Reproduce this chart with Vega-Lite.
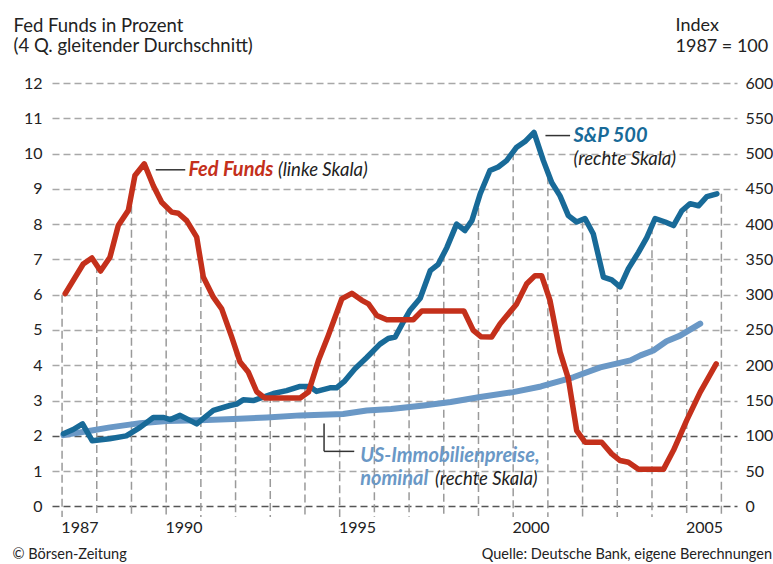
{
  "$schema": "https://vega.github.io/schema/vega-lite/v6.json",
  "width": 685,
  "height": 434,
  "autosize": {"type": "none"},
  "padding": {"left": 52, "top": 83, "right": 36, "bottom": 47},
  "background": "white",
  "config": {"font": "Lato", "view": {"stroke": null}},
  "title": {"text": "Quelle: Deutsche Bank, eigene Berechnungen", "orient": "bottom", "anchor": "end", "frame": "group", "fontSize": 14.5, "fontWeight": "normal", "color": "#222", "dx": 35, "offset": -13},
  "datasets": {
    "series": [
      {"series": "Fed Funds", "t": 1987.09, "v": 6.03},
      {"series": "Fed Funds", "t": 1987.61, "v": 6.87},
      {"series": "Fed Funds", "t": 1987.86, "v": 7.04},
      {"series": "Fed Funds", "t": 1988.11, "v": 6.67},
      {"series": "Fed Funds", "t": 1988.38, "v": 7.06},
      {"series": "Fed Funds", "t": 1988.62, "v": 7.96},
      {"series": "Fed Funds", "t": 1988.91, "v": 8.39},
      {"series": "Fed Funds", "t": 1989.10, "v": 9.38},
      {"series": "Fed Funds", "t": 1989.37, "v": 9.71},
      {"series": "Fed Funds", "t": 1989.63, "v": 9.09},
      {"series": "Fed Funds", "t": 1989.87, "v": 8.62},
      {"series": "Fed Funds", "t": 1990.16, "v": 8.34},
      {"series": "Fed Funds", "t": 1990.35, "v": 8.31},
      {"series": "Fed Funds", "t": 1990.59, "v": 8.10},
      {"series": "Fed Funds", "t": 1990.88, "v": 7.63},
      {"series": "Fed Funds", "t": 1991.07, "v": 6.50},
      {"series": "Fed Funds", "t": 1991.36, "v": 5.93},
      {"series": "Fed Funds", "t": 1991.60, "v": 5.60},
      {"series": "Fed Funds", "t": 1991.89, "v": 4.80},
      {"series": "Fed Funds", "t": 1992.13, "v": 4.09},
      {"series": "Fed Funds", "t": 1992.37, "v": 3.80},
      {"series": "Fed Funds", "t": 1992.61, "v": 3.25},
      {"series": "Fed Funds", "t": 1992.85, "v": 3.07},
      {"series": "Fed Funds", "t": 1993.86, "v": 3.07},
      {"series": "Fed Funds", "t": 1994.10, "v": 3.24},
      {"series": "Fed Funds", "t": 1994.39, "v": 4.14},
      {"series": "Fed Funds", "t": 1994.67, "v": 4.84},
      {"series": "Fed Funds", "t": 1995.06, "v": 5.88},
      {"series": "Fed Funds", "t": 1995.35, "v": 6.04},
      {"series": "Fed Funds", "t": 1995.64, "v": 5.84},
      {"series": "Fed Funds", "t": 1995.83, "v": 5.74},
      {"series": "Fed Funds", "t": 1996.07, "v": 5.41},
      {"series": "Fed Funds", "t": 1996.36, "v": 5.29},
      {"series": "Fed Funds", "t": 1997.12, "v": 5.29},
      {"series": "Fed Funds", "t": 1997.37, "v": 5.54},
      {"series": "Fed Funds", "t": 1998.58, "v": 5.54},
      {"series": "Fed Funds", "t": 1998.85, "v": 4.99},
      {"series": "Fed Funds", "t": 1999.07, "v": 4.81},
      {"series": "Fed Funds", "t": 1999.38, "v": 4.80},
      {"series": "Fed Funds", "t": 1999.62, "v": 5.17},
      {"series": "Fed Funds", "t": 2000.10, "v": 5.74},
      {"series": "Fed Funds", "t": 2000.39, "v": 6.31},
      {"series": "Fed Funds", "t": 2000.63, "v": 6.54},
      {"series": "Fed Funds", "t": 2000.82, "v": 6.54},
      {"series": "Fed Funds", "t": 2001.06, "v": 5.84},
      {"series": "Fed Funds", "t": 2001.35, "v": 4.38},
      {"series": "Fed Funds", "t": 2001.59, "v": 3.62},
      {"series": "Fed Funds", "t": 2001.83, "v": 2.15},
      {"series": "Fed Funds", "t": 2002.07, "v": 1.82},
      {"series": "Fed Funds", "t": 2002.55, "v": 1.82},
      {"series": "Fed Funds", "t": 2002.84, "v": 1.49},
      {"series": "Fed Funds", "t": 2003.08, "v": 1.30},
      {"series": "Fed Funds", "t": 2003.32, "v": 1.25},
      {"series": "Fed Funds", "t": 2003.61, "v": 1.05},
      {"series": "Fed Funds", "t": 2004.33, "v": 1.05},
      {"series": "Fed Funds", "t": 2004.62, "v": 1.59},
      {"series": "Fed Funds", "t": 2005.00, "v": 2.44},
      {"series": "Fed Funds", "t": 2005.39, "v": 3.24},
      {"series": "Fed Funds", "t": 2005.85, "v": 4.04},
      {"series": "S&P 500", "t": 1987.04, "v": 103},
      {"series": "S&P 500", "t": 1987.32, "v": 109},
      {"series": "S&P 500", "t": 1987.59, "v": 117},
      {"series": "S&P 500", "t": 1987.87, "v": 93},
      {"series": "S&P 500", "t": 1988.37, "v": 96},
      {"series": "S&P 500", "t": 1988.85, "v": 100},
      {"series": "S&P 500", "t": 1989.25, "v": 112},
      {"series": "S&P 500", "t": 1989.63, "v": 126},
      {"series": "S&P 500", "t": 1989.93, "v": 126},
      {"series": "S&P 500", "t": 1990.12, "v": 123},
      {"series": "S&P 500", "t": 1990.40, "v": 129},
      {"series": "S&P 500", "t": 1990.88, "v": 117},
      {"series": "S&P 500", "t": 1991.36, "v": 136},
      {"series": "S&P 500", "t": 1991.84, "v": 143},
      {"series": "S&P 500", "t": 1992.03, "v": 145},
      {"series": "S&P 500", "t": 1992.22, "v": 151},
      {"series": "S&P 500", "t": 1992.51, "v": 150},
      {"series": "S&P 500", "t": 1993.09, "v": 160},
      {"series": "S&P 500", "t": 1993.47, "v": 164},
      {"series": "S&P 500", "t": 1993.86, "v": 170},
      {"series": "S&P 500", "t": 1994.14, "v": 170},
      {"series": "S&P 500", "t": 1994.33, "v": 163},
      {"series": "S&P 500", "t": 1994.72, "v": 168},
      {"series": "S&P 500", "t": 1994.91, "v": 168},
      {"series": "S&P 500", "t": 1995.15, "v": 178},
      {"series": "S&P 500", "t": 1995.44, "v": 195},
      {"series": "S&P 500", "t": 1995.78, "v": 211},
      {"series": "S&P 500", "t": 1996.16, "v": 230},
      {"series": "S&P 500", "t": 1996.40, "v": 238},
      {"series": "S&P 500", "t": 1996.60, "v": 240},
      {"series": "S&P 500", "t": 1996.84, "v": 262},
      {"series": "S&P 500", "t": 1997.03, "v": 278},
      {"series": "S&P 500", "t": 1997.32, "v": 295},
      {"series": "S&P 500", "t": 1997.61, "v": 334},
      {"series": "S&P 500", "t": 1997.84, "v": 343},
      {"series": "S&P 500", "t": 1998.09, "v": 367},
      {"series": "S&P 500", "t": 1998.37, "v": 400},
      {"series": "S&P 500", "t": 1998.61, "v": 391},
      {"series": "S&P 500", "t": 1998.81, "v": 405},
      {"series": "S&P 500", "t": 1999.05, "v": 443},
      {"series": "S&P 500", "t": 1999.33, "v": 476},
      {"series": "S&P 500", "t": 1999.57, "v": 481},
      {"series": "S&P 500", "t": 1999.81, "v": 490},
      {"series": "S&P 500", "t": 2000.10, "v": 509},
      {"series": "S&P 500", "t": 2000.34, "v": 517},
      {"series": "S&P 500", "t": 2000.60, "v": 530},
      {"series": "S&P 500", "t": 2000.87, "v": 490},
      {"series": "S&P 500", "t": 2001.11, "v": 459},
      {"series": "S&P 500", "t": 2001.35, "v": 440},
      {"series": "S&P 500", "t": 2001.59, "v": 412},
      {"series": "S&P 500", "t": 2001.83, "v": 403},
      {"series": "S&P 500", "t": 2002.07, "v": 408},
      {"series": "S&P 500", "t": 2002.31, "v": 386},
      {"series": "S&P 500", "t": 2002.60, "v": 325},
      {"series": "S&P 500", "t": 2002.84, "v": 321},
      {"series": "S&P 500", "t": 2003.08, "v": 311},
      {"series": "S&P 500", "t": 2003.32, "v": 337},
      {"series": "S&P 500", "t": 2003.61, "v": 360},
      {"series": "S&P 500", "t": 2003.85, "v": 381},
      {"series": "S&P 500", "t": 2004.09, "v": 408},
      {"series": "S&P 500", "t": 2004.38, "v": 403},
      {"series": "S&P 500", "t": 2004.62, "v": 398},
      {"series": "S&P 500", "t": 2004.86, "v": 419},
      {"series": "S&P 500", "t": 2005.10, "v": 429},
      {"series": "S&P 500", "t": 2005.34, "v": 426},
      {"series": "S&P 500", "t": 2005.58, "v": 439},
      {"series": "S&P 500", "t": 2005.87, "v": 443},
      {"series": "US-Immobilienpreise", "t": 1987.04, "v": 101},
      {"series": "US-Immobilienpreise", "t": 1987.90, "v": 108},
      {"series": "US-Immobilienpreise", "t": 1988.38, "v": 112},
      {"series": "US-Immobilienpreise", "t": 1989.25, "v": 118},
      {"series": "US-Immobilienpreise", "t": 1990.02, "v": 121},
      {"series": "US-Immobilienpreise", "t": 1990.98, "v": 122},
      {"series": "US-Immobilienpreise", "t": 1991.94, "v": 124},
      {"series": "US-Immobilienpreise", "t": 1992.90, "v": 126},
      {"series": "US-Immobilienpreise", "t": 1993.86, "v": 129},
      {"series": "US-Immobilienpreise", "t": 1995.10, "v": 131},
      {"series": "US-Immobilienpreise", "t": 1995.78, "v": 136},
      {"series": "US-Immobilienpreise", "t": 1996.48, "v": 138},
      {"series": "US-Immobilienpreise", "t": 1997.42, "v": 143},
      {"series": "US-Immobilienpreise", "t": 1998.20, "v": 148},
      {"series": "US-Immobilienpreise", "t": 1999.05, "v": 155},
      {"series": "US-Immobilienpreise", "t": 2000.00, "v": 162},
      {"series": "US-Immobilienpreise", "t": 2000.80, "v": 170},
      {"series": "US-Immobilienpreise", "t": 2001.73, "v": 183},
      {"series": "US-Immobilienpreise", "t": 2002.51, "v": 197},
      {"series": "US-Immobilienpreise", "t": 2003.38, "v": 207},
      {"series": "US-Immobilienpreise", "t": 2003.67, "v": 214},
      {"series": "US-Immobilienpreise", "t": 2004.04, "v": 221},
      {"series": "US-Immobilienpreise", "t": 2004.42, "v": 234},
      {"series": "US-Immobilienpreise", "t": 2004.81, "v": 242},
      {"series": "US-Immobilienpreise", "t": 2005.39, "v": 259}
    ],
    "grid": [
      {"year": 1987, "top": 300},
      {"year": 1988, "top": 342},
      {"year": 1989, "top": 443},
      {"year": 1990, "top": 425},
      {"year": 1991, "top": 345},
      {"year": 1992, "top": 224},
      {"year": 1993, "top": 158},
      {"year": 1994, "top": 170},
      {"year": 1995, "top": 285},
      {"year": 1996, "top": 275},
      {"year": 1997, "top": 275},
      {"year": 1998, "top": 358},
      {"year": 1999, "top": 440},
      {"year": 2000, "top": 502},
      {"year": 2001, "top": 468},
      {"year": 2002, "top": 405},
      {"year": 2003, "top": 315},
      {"year": 2004, "top": 397},
      {"year": 2005, "top": 427},
      {"year": 2006, "top": 443}
    ]
  },
  "layer": [
    {
      "layer": [
        {
          "data": {"name": "grid"},
          "mark": {"type": "rule", "color": "#9a9a9a", "strokeWidth": 1.5, "strokeDash": [8, 4]},
          "encoding": {
            "x": {"field": "year", "type": "quantitative", "scale": {"domain": [1986.71, 2006.45], "nice": false, "zero": false},
              "axis": {"values": [1987.5, 1990.5, 1995.5, 2000.5, 2005.5], "tickCount": 20, "labelExpr": "floor(datum.value)", "grid": false, "domain": false, "ticks": false, "labelFlush": false, "labelOverlap": false, "labelPadding": 2, "labelFontSize": 16, "labelBaseline": "top", "labelColor": "#222",
                "title": "© Börsen-Zeitung", "titleX": -40, "titleY": 41, "titleAlign": "left", "titleAnchor": "start", "titleBaseline": "alphabetic", "titleFontSize": 14.5, "titleFontWeight": "normal", "titleColor": "#222"}},
            "y": {"field": "top", "type": "quantitative", "scale": {"domain": [-15, 600], "nice": false, "zero": false},
              "axis": {"orient": "right", "values": [0, 50, 100, 150, 200, 250, 300, 350, 400, 450, 500, 550, 600], "format": "d", "tickCount": 20, "labelOverlap": false, "grid": false, "domain": false, "ticks": false, "labelPadding": 8, "labelFontSize": 16, "labelColor": "#222", "labelBaseline": "middle",
                "title": ["Index", "1987 = 100"], "titleAngle": 0, "titleAlign": "left", "titleBaseline": "alphabetic", "titleX": -62, "titleY": -53, "titleFontSize": 18, "titleFontWeight": "normal", "titleLineHeight": 21, "titleColor": "#222"}},
            "y2": {"datum": -15, "type": "quantitative"}
          }
        },
        {
          "data": {"name": "series"},
          "transform": [{"filter": "datum.series === 'US-Immobilienpreise'"}],
          "mark": {"type": "line", "color": "#6a98c6", "strokeWidth": 6, "strokeCap": "round", "strokeJoin": "round"},
          "encoding": {
            "x": {"field": "t", "type": "quantitative"},
            "y": {"field": "v", "type": "quantitative"}
          }
        },
        {
          "data": {"name": "series"},
          "transform": [{"filter": "datum.series === 'S&P 500'"}],
          "mark": {"type": "line", "color": "#186a98", "strokeWidth": 5.5, "strokeCap": "round", "strokeJoin": "round"},
          "encoding": {
            "x": {"field": "t", "type": "quantitative"},
            "y": {"field": "v", "type": "quantitative"}
          }
        }
      ]
    },
    {
      "layer": [
        {
          "data": {"name": "series"},
          "transform": [{"filter": "datum.series === 'Fed Funds'"}],
          "mark": {"type": "line", "color": "#c4301b", "strokeWidth": 5.5, "strokeCap": "round", "strokeJoin": "round"},
          "encoding": {
            "x": {"field": "t", "type": "quantitative"},
            "y": {"field": "v", "type": "quantitative", "scale": {"domain": [-0.3, 12], "nice": false, "zero": false},
              "axis": {"orient": "left", "values": [0, 1, 2, 3, 4, 5, 6, 7, 8, 9, 10, 11, 12], "format": "d", "tickCount": 20, "labelOverlap": false, "grid": true, "gridDash": [7, 4], "gridWidth": 1.5,
                "gridColor": {"condition": {"test": "datum.value === 0 || datum.value === 2", "value": "#555555"}, "value": "#a8a8a8"},
                "domain": false, "ticks": false, "labelPadding": 10, "labelFontSize": 16, "labelColor": "#222", "labelBaseline": "middle",
                "title": ["Fed Funds in Prozent", "(4 Q. gleitender Durchschnitt)"], "titleAngle": 0, "titleAlign": "left", "titleBaseline": "alphabetic", "titleX": -39, "titleY": -52, "titleFontSize": 18.5, "titleFontWeight": "normal", "titleLineHeight": 20, "titleColor": "#222"}}
          }
        },
        {
          "data": {"values": [{}]},
          "mark": {"type": "rule", "color": "#333", "strokeWidth": 1.5},
          "encoding": {"x": {"datum": 1989.7, "type": "quantitative"}, "x2": {"datum": 1990.55, "type": "quantitative"}, "y": {"datum": 9.54, "type": "quantitative"}}
        },
        {
          "data": {"values": [{}]},
          "mark": {"type": "text", "text": "Fed Funds", "align": "left", "baseline": "middle", "fontSize": 20, "fontWeight": "bold", "fontStyle": "italic", "color": "#c4301b"},
          "encoding": {"x": {"datum": 1990.64, "type": "quantitative"}, "y": {"datum": 9.54, "type": "quantitative"}}
        },
        {
          "data": {"values": [{}]},
          "mark": {"type": "text", "text": "(linke Skala)", "align": "left", "baseline": "middle", "fontSize": 18.5, "fontStyle": "italic", "color": "#222"},
          "encoding": {"x": {"datum": 1993.22, "type": "quantitative"}, "y": {"datum": 9.54, "type": "quantitative"}}
        },
        {
          "data": {"values": [{}]},
          "mark": {"type": "rule", "color": "#333", "strokeWidth": 1.5},
          "encoding": {"x": {"datum": 2000.93, "type": "quantitative"}, "x2": {"datum": 2001.64, "type": "quantitative"}, "y": {"datum": 10.51, "type": "quantitative"}}
        },
        {
          "data": {"values": [{}]},
          "mark": {"type": "text", "text": "S&P 500", "align": "left", "baseline": "middle", "fontSize": 20, "fontWeight": "bold", "fontStyle": "italic", "color": "#186a98"},
          "encoding": {"x": {"datum": 2001.74, "type": "quantitative"}, "y": {"datum": 10.51, "type": "quantitative"}}
        },
        {
          "data": {"values": [{}]},
          "mark": {"type": "text", "text": "(rechte Skala)", "align": "left", "baseline": "middle", "fontSize": 18.5, "fontStyle": "italic", "color": "#222"},
          "encoding": {"x": {"datum": 2001.74, "type": "quantitative"}, "y": {"datum": 9.86, "type": "quantitative"}}
        },
        {
          "data": {"values": [{}]},
          "mark": {"type": "rule", "color": "#333", "strokeWidth": 1.5},
          "encoding": {"x": {"datum": 1994.55, "type": "quantitative"}, "y": {"datum": 2.35, "type": "quantitative"}, "y2": {"datum": 1.56, "type": "quantitative"}}
        },
        {
          "data": {"values": [{}]},
          "mark": {"type": "rule", "color": "#333", "strokeWidth": 1.5},
          "encoding": {"x": {"datum": 1994.55, "type": "quantitative"}, "x2": {"datum": 1995.42, "type": "quantitative"}, "y": {"datum": 1.56, "type": "quantitative"}}
        },
        {
          "data": {"values": [{}]},
          "mark": {"type": "text", "text": "US-Immobilienpreise,", "align": "left", "baseline": "middle", "fontSize": 20, "fontWeight": "bold", "fontStyle": "italic", "color": "#6a98c6"},
          "encoding": {"x": {"datum": 1995.59, "type": "quantitative"}, "y": {"datum": 1.44, "type": "quantitative"}}
        },
        {
          "data": {"values": [{}]},
          "mark": {"type": "text", "text": "nominal", "align": "left", "baseline": "middle", "fontSize": 20, "fontWeight": "bold", "fontStyle": "italic", "color": "#6a98c6"},
          "encoding": {"x": {"datum": 1995.59, "type": "quantitative"}, "y": {"datum": 0.79, "type": "quantitative"}}
        },
        {
          "data": {"values": [{}]},
          "mark": {"type": "text", "text": "(rechte Skala)", "align": "left", "baseline": "middle", "fontSize": 18.5, "fontStyle": "italic", "color": "#222"},
          "encoding": {"x": {"datum": 1997.75, "type": "quantitative"}, "y": {"datum": 0.79, "type": "quantitative"}}
        }
      ]
    }
  ],
  "resolve": {"scale": {"y": "independent"}, "axis": {"y": "independent"}}
}
